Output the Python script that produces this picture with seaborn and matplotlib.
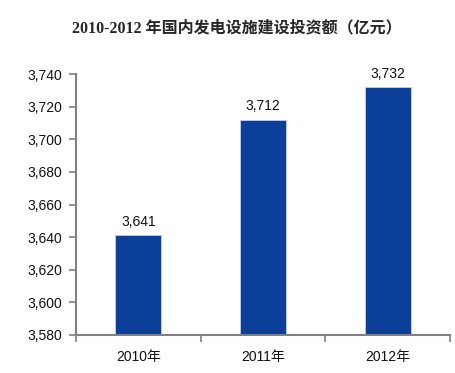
import matplotlib
matplotlib.use("Agg")
import matplotlib.pyplot as plt
import seaborn as sns
import pandas as pd
import numpy as np

years = ["2010年", "2011年", "2012年"]
investment = [3641, 3712, 3732]
y_ticks = [3580, 3600, 3620, 3640, 3660, 3680, 3700, 3720, 3740]
title = "2010-2012 年国内发电设施建设投资额（亿元）"

sns.set_theme(style="white")
plt.rcParams['font.family'] = ['Liberation Sans', 'Noto Sans CJK SC', 'DejaVu Sans']

df = pd.DataFrame({'year': years, 'value': investment})

fig = plt.figure(figsize=(4.55, 3.73), dpi=100)
ax = fig.add_axes([76 / 455, 1 - 335 / 373, 374 / 455, 261 / 373])

sns.barplot(data=df, x='year', y='value', color='#0B3F99', width=0.37,
            saturation=1, ax=ax, edgecolor='#c8d0e0', linewidth=0.6)

ax.set_ylim(3580, 3740)
ax.set_xlim(-0.5, 2.5)
ax.set_yticks(y_ticks)
ax.set_yticklabels([f"{v:,}" for v in y_ticks], fontsize=10, color='#111111')
ax.set_xticks(range(len(years)))
ax.set_xticklabels(years, fontsize=10, color='#111111')
ax.set_xticks(np.arange(-0.5, 3, 1), minor=True)
ax.tick_params(axis='x', which='major', length=0, pad=11)
ax.tick_params(axis='x', which='minor', length=5, color='#808080', width=1.2, direction='out', bottom=True)
ax.tick_params(axis='y', length=5, color='#808080', width=1.2, direction='out', left=True, pad=5)
ax.set_xlabel('')
ax.set_ylabel('')

for side in ['top', 'right']:
    ax.spines[side].set_visible(False)
for side in ['left', 'bottom']:
    ax.spines[side].set_color('#808080')
    ax.spines[side].set_linewidth(1.5)

for i, v in enumerate(investment):
    ax.text(i, v + 4, f"{v:,}", ha='center', va='bottom', fontsize=10, color='#111111')

fig.text(237 / 455, 1 - 28 / 373, title, ha='center', va='center', fontsize=11.5,
         fontweight='bold', family=['Liberation Serif', 'Noto Sans CJK SC'])

fig.savefig('out.png', dpi=100)
